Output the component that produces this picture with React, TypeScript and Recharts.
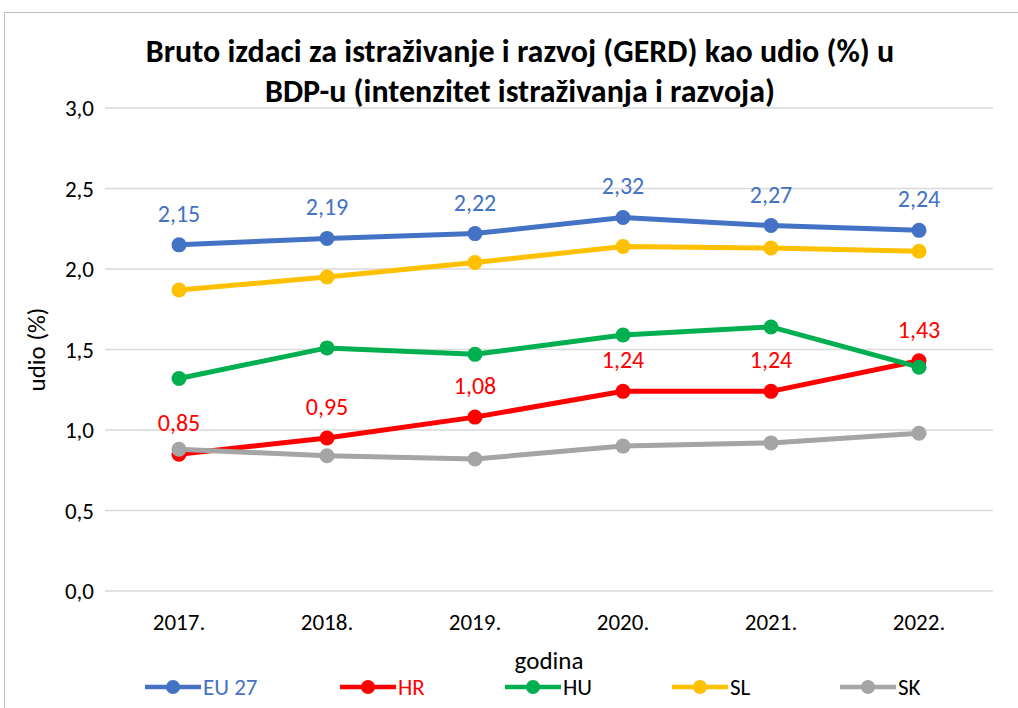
import React from 'react';
import { LineChart, Line, XAxis, YAxis, CartesianGrid, LabelList, Legend } from 'recharts';

const years = ['2017.', '2018.', '2019.', '2020.', '2021.', '2022.'];
const eu27 = [2.15, 2.19, 2.22, 2.32, 2.27, 2.24];
const hr = [0.85, 0.95, 1.08, 1.24, 1.24, 1.43];
const hu = [1.32, 1.51, 1.47, 1.59, 1.64, 1.39];
const sl = [1.87, 1.95, 2.04, 2.14, 2.13, 2.11];
const sk = [0.88, 0.84, 0.82, 0.90, 0.92, 0.98];
const yTicks = [0, 0.5, 1.0, 1.5, 2.0, 2.5, 3.0];

const series = [
  { key: 'eu27', name: 'EU 27', color: '#4472C4', textColor: '#4472C4', values: eu27, labels: true },
  { key: 'hr', name: 'HR', color: '#FF0000', textColor: '#FF0000', values: hr, labels: true },
  { key: 'hu', name: 'HU', color: '#00B050', textColor: '#000000', values: hu, labels: false },
  { key: 'sl', name: 'SL', color: '#FFC000', textColor: '#000000', values: sl, labels: false },
  { key: 'sk', name: 'SK', color: '#A5A5A5', textColor: '#000000', values: sk, labels: false },
];

const data = years.map((y, i) => {
  const row: any = { year: y };
  series.forEach((s) => { row[s.key] = s.values[i]; });
  return row;
});

const FONT = 'Carlito, Calibri, "Liberation Sans", Arial, sans-serif';
const fmt = (v: any) => Number(v).toFixed(2).replace('.', ',');
const legendLefts = [145, 340, 505, 672, 840];

const renderLegend = () => (
  <div style={{ position: 'relative', width: 1018, height: 30 }}>
    {series.map((s, i) => (
      <div key={s.key} style={{ position: 'absolute', left: legendLefts[i], top: 0, display: 'flex', alignItems: 'center', height: 30 }}>
        <svg width={56} height={20}>
          <line x1={0} y1={10} x2={56} y2={10} stroke={s.color} strokeWidth={4.5} />
          <circle cx={28} cy={10} r={7} fill={s.color} />
        </svg>
        <span style={{ color: s.textColor, fontSize: 23, fontFamily: FONT, marginLeft: 2, lineHeight: '30px' }}>{s.name}</span>
      </div>
    ))}
  </div>
);

export default function App() {
  return (
    <div style={{ position: 'fixed', left: 0, top: 0, width: 1018, height: 708, overflow: 'hidden', background: '#fff' }}>
      <div style={{ position: 'absolute', left: 4, top: 12, width: 1040, height: 740, border: '1.5px solid #BFBFBF' }} />
      <div style={{ position: 'absolute', left: 0, top: 32, width: 1040, textAlign: 'center', fontFamily: FONT, fontWeight: 'bold', fontSize: 32, lineHeight: '40px', color: '#000' }}>
        Bruto izdaci za istraživanje i razvoj (GERD) kao udio (%) u<br />BDP-u (intenzitet istraživanja i razvoja)
      </div>
      <div style={{ position: 'absolute', left: 0, top: 0 }}>
        <LineChart width={1018} height={708} data={data} margin={{ top: 108, right: 25, bottom: 7, left: 0 }}>
          <CartesianGrid vertical={false} stroke="#D9D9D9" strokeWidth={1.5} />
          <XAxis
            dataKey="year"
            axisLine={false}
            tickLine={false}
            padding={{ left: 74, right: 74 }}
            height={80}
            tickMargin={17}
            tick={{ fill: '#000', fontSize: 23, fontFamily: FONT }}
            label={{ value: 'godina', position: 'insideBottom', offset: 2, fill: '#000', fontSize: 25, fontFamily: FONT }}
          />
          <YAxis
            domain={[0, 3]}
            ticks={yTicks}
            width={105}
            axisLine={false}
            tickLine={false}
            tickMargin={5}
            tickFormatter={(v: number) => v.toFixed(1).replace('.', ',')}
            tick={{ fill: '#000', fontSize: 23, fontFamily: FONT }}
            label={{
              content: (p: any) => {
                const vb = p.viewBox;
                const cx = 36;
                const cy = vb.y + vb.height / 2;
                return (
                  <text x={cx} y={cy} transform={`rotate(-90 ${cx} ${cy})`} textAnchor="middle" dominantBaseline="central" fill="#000" fontSize={25} fontFamily={FONT}>
                    udio (%)
                  </text>
                );
              },
            }}
          />
          <Legend verticalAlign="bottom" content={renderLegend} wrapperStyle={{ position: 'absolute', left: 0, top: 672, width: 1018 }} />
          {series.map((s) => (
            <Line
              key={s.key}
              dataKey={s.key}
              name={s.name}
              stroke={s.color}
              strokeWidth={5}
              dot={{ r: 7.5, fill: s.color, stroke: s.color, strokeWidth: 0 }}
              activeDot={false}
              isAnimationActive={false}
            >
              {s.labels && (
                <LabelList dataKey={s.key} position="top" offset={23} formatter={fmt} fill={s.color} fontSize={24} fontFamily={FONT} />
              )}
            </Line>
          ))}
        </LineChart>
      </div>
    </div>
  );
}
